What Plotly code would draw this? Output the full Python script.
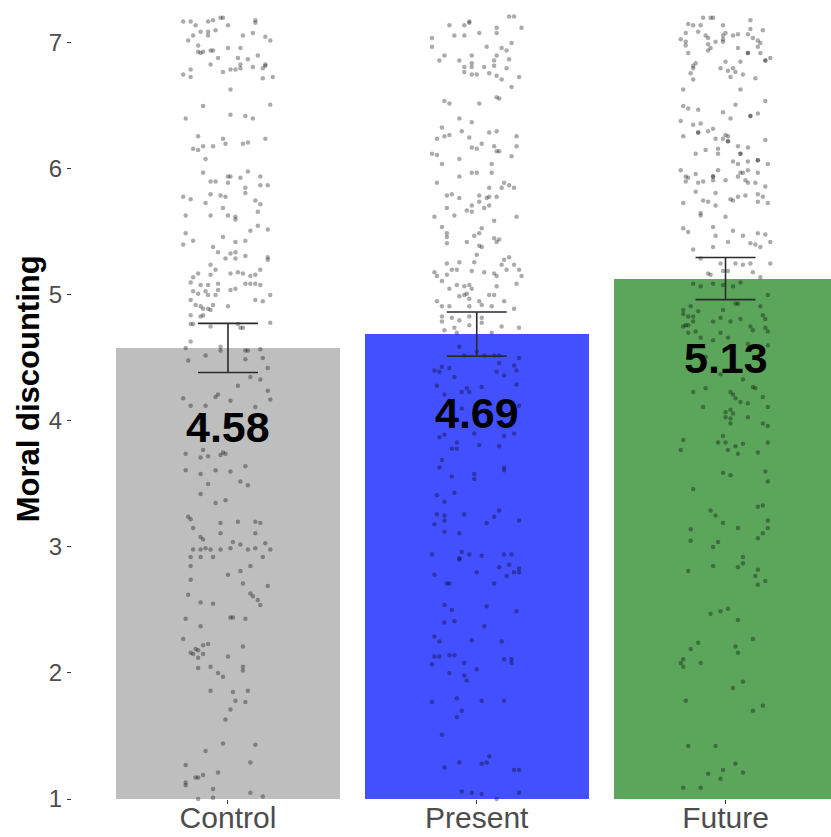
import plotly.graph_objects as go

# Condition means and standard errors
conditions = ["Control", "Present", "Future"]
means = [4.58, 4.69, 5.13]
std_errors = [0.195, 0.175, 0.167]
bar_colors = ["#BEBEBE", "#4250FF", "#5CA65C"]

# Individual responses per condition as (horizontal jitter, rating)
control_points = [
    (-0.18, 7.17), (-0.15, 7.17), (-0.13, 7.14), (-0.08, 7.17), (-0.06, 7.18), (-0.03, 7.20), (-0.02, 7.20),
    (0.00, 7.14), (0.11, 7.18), (0.11, 7.16), (-0.14, 7.06), (-0.11, 7.09), (-0.08, 7.09), (-0.08, 7.06),
    (-0.05, 7.10), (-0.16, 7.02), (-0.12, 6.98), (-0.10, 6.93), (-0.12, 6.93), (-0.11, 6.92), (-0.07, 6.94),
    (-0.06, 6.94), (-0.04, 6.88), (0.00, 6.96), (0.05, 6.96), (0.06, 7.06), (0.10, 7.08), (0.15, 7.05),
    (0.17, 7.02), (0.04, 6.88), (0.08, 6.87), (0.12, 6.90), (-0.07, 6.83), (-0.02, 6.77), (0.01, 6.79),
    (0.03, 6.79), (0.05, 6.83), (0.05, 6.80), (0.10, 6.81), (0.14, 6.80), (0.15, 6.82), (0.15, 6.83),
    (-0.18, 6.75), (-0.15, 6.73), (-0.15, 6.79), (0.14, 6.72), (0.18, 6.73), (0.01, 6.63), (-0.10, 6.50),
    (-0.17, 6.40), (0.01, 6.43), (0.07, 6.42), (0.10, 6.40), (0.17, 6.51), (-0.12, 6.26), (-0.14, 6.16),
    (-0.12, 6.15), (-0.10, 6.18), (-0.06, 6.18), (-0.02, 6.24), (-0.01, 6.20), (0.06, 6.20), (0.08, 6.21),
    (0.15, 6.24), (-0.09, 6.08), (-0.10, 5.97), (-0.07, 5.90), (-0.05, 5.90), (0.00, 5.94), (0.01, 5.94),
    (0.00, 5.89), (0.05, 5.93), (0.08, 5.98), (0.13, 5.94), (0.07, 5.85), (0.13, 5.87), (0.16, 5.87),
    (-0.18, 5.78), (-0.15, 5.76), (-0.07, 5.80), (-0.03, 5.79), (-0.01, 5.78), (-0.09, 5.73), (0.07, 5.81),
    (0.11, 5.75), (0.13, 5.72), (-0.17, 5.63), (-0.07, 5.63), (-0.02, 5.69), (0.00, 5.63), (0.03, 5.62),
    (0.03, 5.60), (0.12, 5.66), (-0.17, 5.49), (-0.14, 5.43), (-0.18, 5.40), (-0.02, 5.46), (0.03, 5.42),
    (0.07, 5.43), (0.09, 5.51), (0.12, 5.55), (0.16, 5.52), (-0.06, 5.38), (-0.04, 5.34), (-0.01, 5.29),
    (0.01, 5.33), (0.03, 5.29), (0.03, 5.34), (0.07, 5.31), (0.16, 5.30), (0.16, 5.28), (-0.07, 5.24),
    (-0.05, 5.20), (-0.12, 5.17), (-0.14, 5.14), (-0.07, 5.16), (0.01, 5.17), (0.04, 5.18), (0.06, 5.17),
    (0.09, 5.15), (0.11, 5.16), (0.13, 5.20),
    (-0.15, 5.10), (-0.11, 5.08), (-0.08, 5.08), (-0.04, 5.09), (0.07, 5.09), (0.09, 5.09), (0.11, 5.09),
    (0.13, 5.08), (-0.14, 5.03), (-0.12, 5.01), (-0.09, 5.03), (-0.08, 5.00), (-0.05, 5.00), (-0.04, 5.04),
    (0.01, 5.04), (0.03, 5.05), (-0.15, 4.96), (-0.13, 4.92), (-0.11, 4.91), (-0.10, 4.89), (-0.08, 4.89),
    (-0.07, 4.88), (-0.06, 4.92), (0.00, 4.91), (0.11, 4.96), (0.14, 4.95), (0.17, 5.00), (-0.15, 4.84),
    (-0.11, 4.83), (-0.10, 4.84), (-0.14, 4.77), (-0.15, 4.77), (-0.07, 4.75), (0.04, 4.77), (0.05, 4.74),
    (0.06, 4.74), (0.17, 4.78), (-0.15, 4.63), (-0.17, 4.58), (-0.03, 4.59), (-0.03, 4.56), (0.07, 4.56),
    (0.08, 4.56), (0.13, 4.57), (-0.16, 4.48), (-0.09, 4.52), (0.07, 4.49), (0.14, 4.50), (0.16, 4.42),
    (0.09, 4.35), (0.04, 4.28), (0.13, 4.33), (0.16, 4.24), (-0.18, 4.18), (-0.05, 4.19), (-0.04, 4.21),
    (0.01, 4.16), (-0.15, 4.12), (-0.09, 4.12), (0.11, 4.11), (0.17, 4.17), (-0.11, 3.98), (0.10, 3.98),
    (-0.17, 3.74), (-0.11, 3.71), (-0.10, 3.77), (-0.08, 3.72), (-0.03, 3.73), (-0.02, 3.75), (-0.01, 3.74),
    (-0.17, 3.61), (-0.11, 3.58), (-0.05, 3.61), (0.01, 3.60), (0.07, 3.64), (-0.08, 3.50), (0.05, 3.52),
    (0.08, 3.49), (-0.11, 3.42), (-0.05, 3.35), (-0.01, 3.37), (-0.16, 3.24), (-0.15, 3.22), (-0.14, 3.15),
    (-0.11, 3.08), (-0.10, 3.06), (-0.03, 3.19), (0.04, 3.20), (0.11, 3.20), (0.13, 3.19), (-0.03, 3.11),
    (0.02, 3.04), (0.05, 3.02), (0.11, 3.11), (0.15, 3.03), (-0.14, 2.98), (-0.11, 2.98), (-0.09, 2.99),
    (-0.07, 2.98), (-0.03, 2.98), (0.01, 2.99), (0.08, 2.98), (0.11, 2.99), (0.17, 2.98), (-0.15, 2.92),
    (-0.11, 2.92), (-0.06, 2.92), (0.14, 2.92),
    (-0.15, 2.85), (-0.15, 2.74), (-0.16, 2.62), (-0.11, 2.56), (-0.06, 2.55), (0.00, 2.78), (0.05, 2.81),
    (0.06, 2.71), (0.09, 2.85), (0.16, 2.69), (0.09, 2.63), (0.10, 2.61), (0.12, 2.58), (0.13, 2.54),
    (-0.17, 2.43), (-0.11, 2.37), (0.01, 2.44), (0.02, 2.44), (0.07, 2.43), (-0.18, 2.27), (-0.15, 2.16),
    (-0.14, 2.15), (-0.13, 2.19), (-0.12, 2.18), (-0.10, 2.22), (-0.08, 2.23), (-0.10, 2.15), (-0.12, 2.12),
    (-0.12, 2.04), (-0.07, 2.05), (-0.04, 2.00), (-0.02, 1.97), (0.00, 2.13), (0.06, 2.21), (0.06, 2.05),
    (0.06, 2.02), (-0.07, 1.86), (0.02, 1.85), (0.08, 1.86), (0.03, 1.78), (0.07, 1.77), (0.01, 1.71),
    (-0.01, 1.63), (-0.02, 1.44), (-0.09, 1.38), (0.11, 1.43), (0.09, 1.29), (-0.17, 1.27), (-0.13, 1.17),
    (-0.12, 1.17), (-0.10, 1.19), (-0.04, 1.21), (-0.17, 1.13), (-0.17, 1.11), (-0.06, 1.08), (-0.06, 1.01),
    (0.09, 1.05), (0.14, 1.02), (-0.12, 1.00),
]

present_points = [
    (-0.11, 7.14), (-0.05, 7.14), (-0.03, 7.17), (-0.03, 7.16), (-0.09, 7.06), (-0.05, 7.06), (0.01, 7.08),
    (0.08, 7.08), (0.08, 7.12), (0.13, 7.21), (0.15, 7.21), (0.18, 7.12), (-0.18, 7.04), (-0.18, 6.97),
    (-0.13, 6.90), (-0.15, 6.86), (-0.07, 6.86), (-0.05, 6.81), (-0.05, 6.77), (-0.02, 6.90), (-0.02, 6.84),
    (-0.02, 6.81), (-0.02, 6.75), (0.00, 6.75), (0.03, 6.81), (0.04, 6.97), (0.08, 6.90), (0.07, 6.86),
    (0.07, 6.82), (0.05, 6.76), (0.08, 6.74), (0.10, 6.71), (0.10, 6.96), (0.12, 6.94), (0.13, 6.87),
    (0.12, 6.80), (0.14, 7.00), (0.17, 6.73), (0.14, 6.65), (0.08, 6.57), (0.09, 6.56), (-0.13, 6.54),
    (-0.11, 6.52), (0.01, 6.52), (-0.07, 6.40), (-0.02, 6.37), (-0.14, 6.33), (-0.13, 6.26), (-0.11, 6.27),
    (-0.06, 6.30), (-0.16, 6.24), (-0.03, 6.25), (0.02, 6.20), (0.05, 6.29), (0.08, 6.30), (0.16, 6.26),
    (0.16, 6.18), (-0.02, 6.17), (0.00, 6.16), (0.07, 6.18), (0.08, 6.14), (0.09, 6.14), (0.14, 6.10),
    (-0.18, 6.12), (-0.16, 6.11), (-0.14, 6.04), (-0.07, 6.08), (0.06, 6.04), (-0.02, 5.97), (0.00, 5.97),
    (-0.07, 5.94), (0.06, 5.97), (-0.16, 5.89), (-0.12, 5.79), (-0.10, 5.80), (-0.07, 5.77), (0.01, 5.79),
    (0.01, 5.74), (0.04, 5.77), (0.05, 5.78), (0.08, 5.78), (0.05, 5.85), (0.10, 5.85), (0.11, 5.89),
    (0.13, 5.87), (0.15, 5.85), (-0.17, 5.62), (-0.12, 5.69), (-0.09, 5.63), (-0.04, 5.67), (-0.02, 5.71),
    (-0.02, 5.66), (0.03, 5.69), (0.05, 5.71), (0.07, 5.59), (0.16, 5.62), (-0.14, 5.54), (-0.12, 5.49),
    (-0.12, 5.46), (-0.12, 5.41), (-0.04, 5.42), (-0.01, 5.47), (0.01, 5.49), (0.02, 5.53), (0.01, 5.39),
    (0.02, 5.38), (0.07, 5.45), (0.09, 5.44), (0.08, 5.42), (0.00, 5.32), (-0.12, 5.25), (-0.10, 5.20),
    (-0.08, 5.20), (-0.07, 5.26), (-0.02, 5.19), (-0.01, 5.26), (0.03, 5.18), (0.10, 5.24), (0.11, 5.28),
    (0.13, 5.30), (0.15, 5.24), (0.12, 5.20), (0.17, 5.20), (-0.17, 5.18), (-0.16, 5.15), (-0.12, 5.16),
    (0.07, 5.17), (0.08, 5.15), (0.18, 5.15),
    (-0.14, 5.11), (-0.11, 5.05), (-0.08, 5.08), (-0.05, 5.07), (-0.03, 5.08), (-0.02, 5.05), (0.08, 5.07),
    (0.16, 5.09), (-0.07, 4.99), (-0.05, 5.00), (-0.04, 5.01), (-0.03, 4.97), (0.01, 4.95), (0.05, 5.00),
    (0.07, 5.00), (0.11, 4.95), (-0.16, 4.95), (-0.14, 4.91), (-0.11, 4.91), (-0.03, 4.91), (0.02, 4.92),
    (0.06, 4.91), (0.15, 4.89), (-0.14, 4.83), (-0.14, 4.79), (-0.10, 4.82), (-0.07, 4.80), (-0.03, 4.83),
    (0.02, 4.82), (0.10, 4.75), (-0.13, 4.72), (-0.09, 4.74), (-0.08, 4.70), (-0.03, 4.76), (0.02, 4.78),
    (0.06, 4.70), (0.17, 4.74), (-0.07, 4.59), (-0.05, 4.52), (0.00, 4.55), (0.03, 4.52), (0.07, 4.52),
    (0.09, 4.52), (0.17, 4.50), (-0.17, 4.40), (-0.15, 4.39), (-0.14, 4.43), (-0.11, 4.42), (-0.09, 4.35),
    (-0.16, 4.28), (-0.13, 4.21), (-0.06, 4.23), (-0.04, 4.26), (-0.03, 4.23), (0.02, 4.27), (0.08, 4.39),
    (0.09, 4.46), (0.11, 4.36), (0.15, 4.44), (0.16, 4.40), (0.16, 4.29), (0.17, 4.12), (-0.06, 4.10),
    (-0.01, 3.90), (-0.15, 3.87), (-0.13, 3.89), (-0.08, 3.83), (-0.10, 3.78), (-0.08, 3.78), (0.01, 3.81),
    (0.09, 3.80), (0.11, 3.88), (0.15, 3.90), (-0.14, 3.69), (-0.15, 3.63), (-0.10, 3.56), (-0.01, 3.58),
    (-0.01, 3.54), (0.11, 3.63), (0.11, 3.61), (-0.09, 3.43), (-0.16, 3.41), (-0.13, 3.36), (0.09, 3.29),
    (-0.16, 3.26), (-0.13, 3.25), (-0.13, 3.21), (-0.05, 3.26), (-0.17, 3.18), (-0.13, 3.12), (-0.07, 3.11),
    (0.04, 3.19), (0.07, 3.24), (0.17, 3.21), (-0.18, 2.94), (-0.06, 2.96), (-0.03, 2.94), (0.02, 2.93),
    (0.11, 2.94), (0.14, 2.94), (-0.07, 2.91),
    (-0.07, 2.90), (0.00, 2.80), (0.09, 2.84), (0.13, 2.86), (0.15, 2.80), (0.17, 2.83), (0.17, 2.80),
    (0.12, 2.77), (-0.17, 2.78), (-0.12, 2.71), (-0.11, 2.71), (0.07, 2.71), (-0.13, 2.54), (-0.10, 2.50),
    (0.04, 2.53), (0.16, 2.49), (-0.13, 2.40), (-0.09, 2.41), (0.03, 2.37), (-0.17, 2.29), (-0.15, 2.25),
    (-0.02, 2.26), (0.10, 2.25), (-0.17, 2.13), (-0.15, 2.13), (-0.11, 2.14), (-0.09, 2.14), (-0.18, 2.07),
    (-0.05, 2.08), (0.00, 2.03), (0.11, 2.11), (0.14, 2.11), (0.14, 2.08), (-0.11, 2.00), (-0.05, 1.98),
    (-0.04, 1.94), (-0.18, 1.77), (-0.08, 1.80), (0.02, 1.78), (0.11, 1.78), (-0.06, 1.70), (-0.08, 1.65),
    (-0.14, 1.51), (0.05, 1.34), (0.04, 1.29), (0.02, 1.28), (-0.07, 1.29), (-0.13, 1.25), (0.15, 1.23),
    (0.17, 1.23), (-0.06, 1.06), (-0.02, 1.05), (0.02, 1.04), (0.17, 1.05), (0.08, 1.00),
]

future_points = [
    (-0.09, 7.20), (-0.06, 7.20), (-0.05, 7.20), (-0.01, 7.14), (0.10, 7.18), (-0.15, 7.15), (-0.13, 7.14),
    (-0.10, 7.14), (-0.16, 7.08), (-0.11, 7.09), (-0.08, 7.06), (-0.07, 7.04), (-0.01, 7.06), (0.00, 7.08),
    (0.03, 7.06), (0.05, 7.07), (0.09, 7.07), (0.10, 7.11), (0.15, 7.10), (-0.18, 7.03), (-0.16, 7.01),
    (-0.16, 6.98), (-0.07, 6.99), (-0.04, 7.01), (-0.01, 7.03), (-0.01, 7.01), (0.11, 7.04), (0.13, 7.02),
    (0.14, 7.00), (0.13, 6.97), (0.05, 6.96), (-0.07, 6.94), (-0.06, 6.96), (-0.15, 6.92), (0.09, 6.92),
    (0.09, 6.92), (0.14, 6.92), (0.16, 6.86), (0.16, 6.86), (0.18, 6.88), (-0.12, 6.84), (-0.13, 6.82),
    (-0.13, 6.80), (-0.02, 6.80), (0.00, 6.85), (0.01, 6.78), (0.03, 6.80), (0.04, 6.77), (0.06, 6.85),
    (0.07, 6.75), (0.02, 6.73), (-0.14, 6.76), (-0.13, 6.71), (0.12, 6.72), (-0.17, 6.63), (0.06, 6.63),
    (-0.17, 6.50), (-0.15, 6.48), (-0.11, 6.47), (-0.01, 6.45), (0.04, 6.51), (0.02, 6.40), (0.10, 6.42),
    (0.10, 6.42), (0.13, 6.44), (0.16, 6.54), (-0.18, 6.38), (-0.13, 6.35), (-0.10, 6.36), (-0.11, 6.29),
    (-0.11, 6.29), (-0.07, 6.30), (-0.05, 6.32), (-0.17, 6.26), (-0.04, 6.24), (-0.01, 6.24), (0.00, 6.27),
    (0.01, 6.26), (0.01, 6.22), (0.01, 6.22), (0.16, 6.23), (-0.12, 6.12), (-0.08, 6.15), (-0.03, 6.16),
    (-0.03, 6.12), (0.05, 6.18), (0.09, 6.17), (0.06, 6.12), (0.06, 6.12), (0.03, 6.06), (0.05, 6.04),
    (0.09, 6.06), (0.13, 6.07), (0.13, 6.07), (0.17, 6.04), (-0.18, 5.99), (-0.16, 5.94), (-0.15, 5.93),
    (-0.16, 5.90), (-0.12, 5.96), (-0.09, 5.90), (-0.11, 5.89), (-0.05, 5.94), (-0.05, 5.94), (-0.05, 5.91),
    (-0.03, 5.99), (0.00, 5.91), (0.05, 5.94), (0.06, 5.97), (0.09, 5.99), (0.07, 5.97), (0.08, 5.91),
    (0.09, 5.89), (0.12, 5.89), (0.13, 5.97), (0.16, 5.86), (-0.12, 5.82), (-0.09, 5.75), (-0.07, 5.74),
    (-0.04, 5.81), (-0.04, 5.71), (0.02, 5.76), (0.03, 5.75), (0.05, 5.78), (0.08, 5.79), (0.13, 5.80),
    (0.15, 5.78), (0.13, 5.74), (0.17, 5.73), (-0.17, 5.73), (-0.10, 5.65), (-0.10, 5.63), (0.00, 5.62),
    (-0.17, 5.53), (-0.15, 5.50), (-0.05, 5.54), (-0.04, 5.47), (0.03, 5.51), (0.07, 5.47), (0.10, 5.41),
    (0.12, 5.40), (0.13, 5.49), (0.14, 5.38), (0.16, 5.48), (0.18, 5.42), (-0.13, 5.36), (-0.05, 5.38),
    (0.01, 5.42), (-0.10, 5.29), (-0.02, 5.25), (-0.01, 5.19), (0.01, 5.19), (0.04, 5.25), (0.07, 5.24),
    (0.10, 5.25), (0.11, 5.18), (0.18, 5.25), (-0.07, 5.17), (-0.06, 5.16), (0.14, 5.14),
    (-0.13, 5.09), (-0.10, 5.07), (-0.05, 5.09), (-0.01, 5.08), (0.03, 5.07), (0.06, 5.10), (0.17, 5.00),
    (-0.17, 4.88), (-0.17, 4.85), (-0.14, 4.91), (-0.15, 4.83), (-0.13, 4.83), (-0.11, 4.87), (-0.16, 4.76),
    (-0.17, 4.75), (-0.15, 4.76), (-0.13, 4.79), (-0.05, 4.79), (-0.01, 4.88), (-0.02, 4.82), (0.02, 4.79),
    (0.04, 4.93), (0.05, 4.93), (0.06, 4.81), (0.10, 4.75), (0.11, 4.72), (0.14, 4.91), (0.15, 4.84),
    (0.16, 4.81), (0.16, 4.74), (0.17, 4.71), (-0.12, 4.71), (-0.15, 4.70), (-0.10, 4.66), (-0.05, 4.64),
    (-0.02, 4.70), (0.01, 4.66), (0.09, 4.61), (0.17, 4.60), (-0.08, 4.51), (-0.02, 4.37), (0.07, 4.33),
    (-0.13, 4.23), (-0.08, 4.26), (0.02, 4.23), (0.03, 4.21), (0.04, 4.18), (0.06, 4.15), (0.09, 4.14),
    (0.15, 4.19), (0.11, 4.27), (0.12, 4.26), (-0.09, 4.11), (0.00, 4.07), (0.02, 4.09), (0.03, 4.06),
    (0.00, 4.03), (0.02, 4.02), (0.02, 3.98), (0.09, 4.03), (0.17, 4.11), (0.15, 3.98), (0.17, 3.96),
    (-0.17, 3.85), (-0.18, 3.77), (-0.03, 3.83), (-0.01, 3.88), (0.00, 3.83), (0.01, 3.77), (0.04, 3.80),
    (0.07, 3.82), (0.05, 3.74), (0.13, 3.75), (0.17, 3.83), (-0.01, 3.59), (0.02, 3.57), (0.16, 3.60),
    (0.17, 3.52), (-0.13, 3.46), (-0.06, 3.29), (-0.04, 3.25), (-0.01, 3.19), (0.05, 3.15), (0.13, 3.32),
    (0.15, 3.33), (0.17, 3.21), (0.17, 3.15), (0.15, 3.11), (0.13, 3.07), (-0.14, 3.14), (-0.14, 3.05),
    (-0.03, 3.04), (-0.05, 3.00), (0.07, 2.92),
    (-0.15, 2.81), (-0.05, 2.85), (0.05, 2.84), (0.07, 2.87), (0.13, 2.82), (0.12, 2.77), (0.16, 2.73),
    (0.13, 2.70), (-0.06, 2.47), (-0.02, 2.49), (0.01, 2.51), (0.05, 2.42), (0.11, 2.27), (-0.11, 2.24),
    (-0.14, 2.19), (0.04, 2.21), (0.05, 2.16), (-0.17, 2.11), (-0.18, 2.08), (-0.17, 2.05), (-0.10, 2.08),
    (0.07, 1.93), (0.03, 1.88), (-0.16, 1.78), (0.11, 1.70), (0.15, 1.74), (-0.15, 1.42), (-0.04, 1.42),
    (0.04, 1.28), (0.07, 1.21), (-0.01, 1.23), (-0.07, 1.20), (-0.02, 1.16), (-0.17, 1.09), (-0.10, 1.09),
]

y_ticks = [1, 2, 3, 4, 5, 6, 7]
label_offset = 0.63  # value labels sit just below each bar top

FONT = "Liberation Sans, Arial, Helvetica, sans-serif"
TICK_GREY = "#4D4D4D"

fig = go.Figure()

# Bars for the condition means
fig.add_trace(go.Bar(
    x=list(range(len(conditions))),
    y=means,
    width=0.9,
    marker=dict(color=bar_colors, line=dict(width=0)),
    showlegend=False,
    hoverinfo="skip",
))

# Jittered individual responses
for idx, pts in enumerate([control_points, present_points, future_points]):
    fig.add_trace(go.Scatter(
        x=[idx + dx for dx, _ in pts],
        y=[v for _, v in pts],
        mode="markers",
        marker=dict(size=4.5, color="rgba(0,0,0,0.33)", line=dict(width=0)),
        showlegend=False,
        hoverinfo="skip",
        cliponaxis=False,
    ))

# Standard-error bars
fig.add_trace(go.Scatter(
    x=list(range(len(conditions))),
    y=means,
    mode="markers",
    marker=dict(size=1, color="rgba(0,0,0,0)"),
    error_y=dict(type="data", array=std_errors, visible=True,
                 color="#2B2B2B", thickness=1.6, width=30),
    showlegend=False,
    hoverinfo="skip",
))

# Mean value labels
for idx, m in enumerate(means):
    fig.add_annotation(
        x=idx, y=m - label_offset, xref="x", yref="y",
        text=f"<b>{m:.2f}</b>", showarrow=False,
        font=dict(family=FONT, size=43, color="black"),
        xanchor="center", yanchor="middle",
    )

# Y-axis title
fig.add_annotation(
    x=-0.058, y=0.514, xref="paper", yref="paper",
    text="<b>Moral discounting</b>", showarrow=False, textangle=-90,
    font=dict(family=FONT, size=31, color="black"),
    xanchor="center", yanchor="middle",
)

fig.update_layout(
    width=831, height=837,
    margin=dict(l=72, r=0, t=0, b=38, autoexpand=False),
    paper_bgcolor="white", plot_bgcolor="white",
    bargap=0,
    font=dict(family=FONT),
    xaxis=dict(
        range=[-0.627, 2.424], automargin=False,
        tickvals=list(range(len(conditions))), ticktext=conditions,
        showgrid=False, zeroline=False, showline=False,
        ticks="outside", ticklen=4, tickwidth=1, tickcolor="#333333",
        ticklabelstandoff=-12,
        tickfont=dict(family=FONT, size=30, color=TICK_GREY),
    ),
    yaxis=dict(
        range=[1, 7.341], automargin=False,
        tickvals=y_ticks, ticktext=[str(t) for t in y_ticks],
        showgrid=False, zeroline=False, showline=False,
        ticks="outside", ticklen=4, tickwidth=1, tickcolor="#333333",
        tickfont=dict(family=FONT, size=24, color=TICK_GREY),
    ),
)

fig.write_html("out.html")
